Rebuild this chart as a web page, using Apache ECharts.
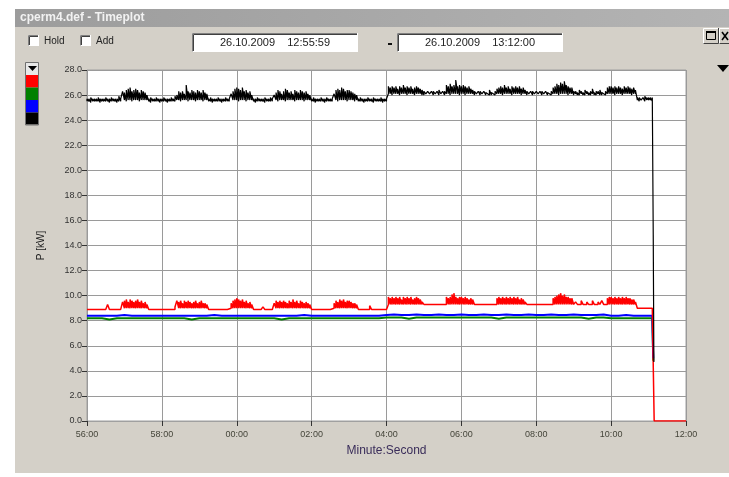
<!DOCTYPE html>
<html>
<head>
<meta charset="utf-8">
<title>cperm4.def - Timeplot</title>
<script src="https://cdn.jsdelivr.net/npm/echarts@6/dist/echarts.min.js"></script>
<style>
  html, body { margin: 0; padding: 0; background: #ffffff; }
  #plot { width: 729px; height: 477px; }
</style>
</head>
<body>
<div id="plot"></div>
<script>
// Power readings, seconds after 12:56:00 (26.10.2009).
// Black and red channels: min / max of each 3 s interval (t = 0 ... 906 s).
const fastStepSec = 3;
const blackHighKw = [
  25.7,25.7,25.8,25.7,25.7,25.7,25.8,25.7,25.7,25.7,25.8,25.7,25.7,25.8,25.7,25.7,25.7,25.9,25.7,26.3,
  26.2,26.4,26.5,26.6,26.3,26.4,26.5,26.4,26.2,26.4,26.3,26.2,26.0,25.7,25.8,25.7,25.7,25.8,25.7,25.7,
  25.7,25.8,25.7,25.7,25.7,25.8,25.7,25.9,26.0,26.3,26.2,26.3,26.1,26.8,26.3,26.2,26.4,26.3,26.2,26.4,
  26.3,26.2,26.4,26.2,26.1,25.7,25.8,25.7,25.7,25.7,25.8,25.7,25.7,25.7,25.8,25.7,25.7,26.1,26.3,26.5,
  26.6,26.5,26.4,26.6,26.3,26.4,26.2,26.3,26.0,25.7,25.7,25.8,25.7,25.7,25.7,25.8,25.7,25.7,25.8,25.7,
  26.0,26.2,26.4,26.3,26.1,26.3,26.5,26.4,26.2,26.3,26.1,26.4,26.3,26.2,26.4,26.3,26.2,26.3,26.1,26.0,
  25.7,25.8,25.7,25.7,25.7,25.8,25.7,25.7,25.8,25.7,25.7,25.7,26.1,26.4,26.5,26.4,26.6,26.5,26.3,26.4,
  26.4,26.3,26.2,26.1,26.0,25.7,25.8,25.7,25.7,25.7,25.8,25.7,25.7,25.8,25.7,25.7,25.7,25.8,25.7,25.7,
  25.7,26.7,26.6,26.7,26.6,26.7,26.5,26.7,26.6,26.8,26.6,26.7,26.6,26.7,26.5,26.6,26.7,26.6,26.5,26.4,
  26.3,26.2,26.3,26.2,26.3,26.3,26.2,26.3,26.4,26.2,26.3,26.3,26.8,26.7,26.9,26.7,26.8,27.2,26.7,26.8,
  26.7,26.8,26.7,26.6,26.7,26.5,26.4,26.3,26.2,26.3,26.3,26.2,26.3,26.2,26.3,26.4,26.2,26.3,26.3,26.5,
  26.6,26.7,26.6,26.8,26.6,26.7,26.5,26.7,26.6,26.7,26.6,26.7,26.5,26.6,26.4,26.3,26.2,26.3,26.3,26.2,
  26.3,26.2,26.3,26.3,26.2,26.3,26.2,26.3,26.3,26.6,26.7,26.9,26.8,27.0,26.9,27.1,26.8,26.7,26.6,26.6,
  26.3,26.3,26.2,26.4,26.3,26.2,26.4,26.3,26.2,26.3,26.5,26.2,26.3,26.3,26.4,26.2,26.3,26.3,26.6,26.7,
  26.7,26.6,26.7,26.6,26.7,26.6,26.5,26.7,26.6,26.7,26.6,26.5,26.6,26.4,25.8,25.8,25.7,25.8,25.9,25.8,
  25.8,25.8,25.8
];
const blackLowKw = [
  25.5,25.5,25.4,25.5,25.5,25.5,25.5,25.4,25.5,25.5,25.5,25.5,25.4,25.5,25.5,25.5,25.4,25.5,25.5,25.6,
  25.6,25.5,25.6,25.6,25.5,25.6,25.6,25.6,25.5,25.6,25.6,25.6,25.6,25.5,25.4,25.5,25.5,25.5,25.5,25.4,
  25.5,25.5,25.5,25.4,25.5,25.5,25.5,25.5,25.6,25.6,25.5,25.6,25.6,25.6,25.5,25.6,25.6,25.6,25.5,25.6,
  25.6,25.6,25.5,25.6,25.6,25.5,25.5,25.4,25.5,25.5,25.5,25.5,25.4,25.5,25.5,25.5,25.5,25.6,25.6,25.6,
  25.6,25.5,25.6,25.6,25.6,25.5,25.6,25.6,25.6,25.5,25.4,25.5,25.5,25.5,25.5,25.4,25.5,25.5,25.5,25.5,
  25.6,25.6,25.5,25.6,25.6,25.6,25.5,25.6,25.6,25.6,25.6,25.5,25.6,25.6,25.6,25.6,25.5,25.6,25.6,25.6,
  25.5,25.5,25.4,25.5,25.5,25.5,25.5,25.4,25.5,25.5,25.5,25.5,25.6,25.6,25.5,25.6,25.6,25.6,25.6,25.5,
  25.6,25.6,25.6,25.5,25.6,25.5,25.5,25.5,25.4,25.5,25.5,25.5,25.5,25.4,25.5,25.5,25.5,25.5,25.4,25.5,
  25.5,26.1,26.1,26.0,26.1,26.1,26.1,26.0,26.1,26.1,26.1,26.0,26.1,26.1,26.1,26.0,26.1,26.1,26.1,26.0,
  26.0,26.1,26.0,26.1,26.0,26.0,26.1,26.0,26.0,26.1,26.0,26.0,26.1,26.1,26.0,26.1,26.1,26.1,26.1,26.0,
  26.1,26.1,26.0,26.1,26.1,26.1,26.1,26.0,26.1,26.0,26.0,26.1,26.0,26.0,26.1,26.0,26.0,26.1,26.0,26.1,
  26.1,26.1,26.0,26.1,26.1,26.1,26.1,26.0,26.1,26.1,26.1,26.1,26.0,26.1,26.1,26.0,26.1,26.0,26.0,26.1,
  26.0,26.1,26.0,26.0,26.1,26.0,26.0,26.1,26.0,26.1,26.1,26.1,26.0,26.1,26.1,26.1,26.1,26.0,26.1,26.1,
  26.0,26.1,26.0,26.0,26.1,26.0,26.0,26.1,26.0,26.0,26.1,26.0,26.0,26.1,26.0,26.0,26.1,26.0,26.1,26.1,
  26.1,26.1,26.0,26.1,26.1,26.1,26.0,26.1,26.1,26.1,26.1,26.0,26.1,26.1,25.6,25.5,25.6,25.6,25.5,25.6,
  25.6,25.6,25.5
];
const redHighKw = [
  9.0,9.0,9.0,9.0,9.0,9.0,9.0,9.0,9.0,9.0,9.0,9.3,9.0,9.0,9.0,9.0,9.0,9.0,9.0,9.5,
  9.6,9.7,9.5,9.7,9.6,9.5,9.6,9.7,9.5,9.6,9.4,9.5,9.3,9.0,9.0,9.0,9.0,9.0,9.0,9.0,
  9.0,9.0,9.0,9.0,9.0,9.0,9.0,9.1,9.6,9.5,9.6,9.4,9.6,9.5,9.6,9.5,9.4,9.5,9.6,9.4,
  9.5,9.6,9.4,9.4,9.3,9.0,9.0,9.0,9.0,9.0,9.0,9.0,9.0,9.0,9.0,9.0,9.0,9.4,9.6,9.7,
  9.8,9.7,9.6,9.7,9.5,9.6,9.4,9.5,9.3,9.0,9.0,9.0,9.0,9.0,9.1,9.0,9.0,9.0,9.0,9.0,
  9.4,9.6,9.5,9.6,9.5,9.6,9.5,9.4,9.6,9.5,9.7,9.5,9.6,9.4,9.6,9.5,9.4,9.5,9.4,9.3,
  9.0,9.0,9.0,9.0,9.0,9.0,9.0,9.0,9.0,9.0,9.0,9.0,9.4,9.6,9.5,9.7,9.6,9.7,9.5,9.6,
  9.6,9.5,9.4,9.4,9.3,9.0,9.0,9.0,9.0,9.0,9.0,9.2,9.0,9.0,9.0,9.0,9.0,9.0,9.0,9.0,
  9.0,9.9,9.8,9.9,9.8,9.9,9.8,9.9,9.7,9.9,9.8,9.9,9.8,9.9,9.7,9.8,9.9,9.8,9.7,9.5,
  9.4,9.4,9.4,9.4,9.4,9.4,9.4,9.4,9.4,9.4,9.4,9.4,9.9,9.8,9.9,10.1,10.2,9.9,9.8,9.9,
  9.9,9.8,9.9,9.8,9.7,9.8,9.7,9.4,9.4,9.4,9.4,9.4,9.4,9.4,9.4,9.4,9.4,9.4,9.4,9.8,
  9.9,9.8,9.9,9.8,9.9,9.8,9.9,9.8,9.9,9.8,9.9,9.7,9.8,9.7,9.5,9.4,9.4,9.4,9.4,9.4,
  9.4,9.4,9.4,9.4,9.4,9.4,9.4,9.4,9.4,9.8,9.9,10.0,10.1,10.2,10.0,10.1,9.9,9.9,9.8,9.8,
  9.4,9.5,9.4,9.4,9.6,9.4,9.4,9.5,9.4,9.4,9.6,9.4,9.4,9.5,9.4,9.6,9.4,9.4,9.8,9.9,
  9.9,9.8,9.9,9.8,9.9,9.8,9.9,9.8,9.9,9.8,9.8,9.7,9.7,9.5,9.1,9.1,9.1,9.1,9.1,9.1,
  9.1,9.1,9.1
];
const redLowKw = [
  8.9,8.9,8.9,8.9,8.9,8.9,8.9,8.9,8.9,8.9,8.9,8.9,8.9,8.9,8.9,8.9,8.9,8.9,8.9,9.0,
  9.0,9.0,9.0,9.0,9.0,9.0,9.0,9.0,9.0,9.0,9.0,9.0,9.0,8.9,8.9,8.9,8.9,8.9,8.9,8.9,
  8.9,8.9,8.9,8.9,8.9,8.9,8.9,8.9,9.0,9.0,9.0,9.0,9.0,9.0,9.0,9.0,9.0,9.0,9.0,9.0,
  9.0,9.0,9.0,9.0,9.0,8.9,8.9,8.9,8.9,8.9,8.9,8.9,8.9,8.9,8.9,8.9,8.9,9.0,9.0,9.0,
  9.0,9.0,9.0,9.0,9.0,9.0,9.0,9.0,9.0,8.9,8.9,8.9,8.9,8.9,8.9,8.9,8.9,8.9,8.9,8.9,
  9.0,9.0,9.0,9.0,9.0,9.0,9.0,9.0,9.0,9.0,9.0,9.0,9.0,9.0,9.0,9.0,9.0,9.0,9.0,9.0,
  8.9,8.9,8.9,8.9,8.9,8.9,8.9,8.9,8.9,8.9,8.9,8.9,9.0,9.0,9.0,9.0,9.0,9.0,9.0,9.0,
  9.0,9.0,9.0,9.0,9.0,8.9,8.9,8.9,8.9,8.9,8.9,8.9,8.9,8.9,8.9,8.9,8.9,8.9,8.9,8.9,
  8.9,9.3,9.3,9.3,9.3,9.3,9.3,9.3,9.3,9.3,9.3,9.3,9.3,9.3,9.3,9.3,9.3,9.3,9.3,9.3,
  9.3,9.3,9.3,9.3,9.3,9.3,9.3,9.3,9.3,9.3,9.3,9.3,9.3,9.3,9.3,9.3,9.3,9.3,9.3,9.3,
  9.3,9.3,9.3,9.3,9.3,9.3,9.3,9.3,9.3,9.3,9.3,9.3,9.3,9.3,9.3,9.3,9.3,9.3,9.3,9.3,
  9.3,9.3,9.3,9.3,9.3,9.3,9.3,9.3,9.3,9.3,9.3,9.3,9.3,9.3,9.3,9.3,9.3,9.3,9.3,9.3,
  9.3,9.3,9.3,9.3,9.3,9.3,9.3,9.3,9.3,9.3,9.3,9.3,9.3,9.3,9.3,9.3,9.3,9.3,9.3,9.3,
  9.3,9.3,9.3,9.3,9.3,9.3,9.3,9.3,9.3,9.3,9.3,9.3,9.3,9.3,9.3,9.3,9.3,9.3,9.3,9.3,
  9.3,9.3,9.3,9.3,9.3,9.3,9.3,9.3,9.3,9.3,9.3,9.3,9.3,9.3,9.0,9.0,9.0,9.0,9.0,9.0,
  9.0,9.0,9.0
];
// Green and blue channels, one reading every 12 s (t = 0 ... 900 s).
const slowStepSec = 12;
const greenKw = [
  8.2,8.2,8.2,8.1,8.2,8.2,8.2,8.2,8.2,8.2,
  8.2,8.2,8.2,8.2,8.1,8.2,8.2,8.2,8.2,8.2,
  8.2,8.2,8.2,8.2,8.2,8.2,8.1,8.2,8.2,8.2,
  8.2,8.2,8.2,8.2,8.2,8.2,8.2,8.2,8.2,8.2,
  8.25,8.25,8.25,8.15,8.25,8.25,8.25,8.25,8.25,8.25,
  8.25,8.25,8.25,8.25,8.25,8.15,8.25,8.25,8.25,8.25,
  8.25,8.25,8.25,8.25,8.25,8.25,8.25,8.15,8.25,8.25,
  8.2,8.2,8.2,8.2,8.2,8.2
];
const blueKw = [
  8.4,8.4,8.4,8.4,8.4,8.45,8.4,8.4,8.4,8.4,
  8.4,8.4,8.4,8.4,8.4,8.4,8.4,8.45,8.4,8.4,
  8.4,8.4,8.4,8.4,8.4,8.4,8.4,8.4,8.4,8.45,
  8.4,8.4,8.4,8.4,8.4,8.4,8.4,8.4,8.4,8.4,
  8.45,8.5,8.45,8.45,8.5,8.45,8.45,8.5,8.45,8.45,
  8.5,8.45,8.45,8.5,8.45,8.45,8.5,8.45,8.45,8.5,
  8.45,8.45,8.5,8.45,8.45,8.5,8.45,8.45,8.45,8.5,
  8.4,8.4,8.45,8.4,8.4,8.4
];
// Shut-down at about 13:11:08
const blackTailSec = [907.5, 907.5, 908.5, 908.5];
const blackTailKw  = [25.7, 14.8, 14.8, 4.7];
const redTailSec   = [909, 909, 960];
const redTailKw    = [9.1, 0, 0];
const greenTailSec = [906, 907.5, 907.5];
const greenTailKw  = [8.2, 8.2, 4.8];
const blueTailSec  = [906, 907.5, 907.5];
const blueTailKw   = [8.4, 8.4, 5.0];

const xTickLabels = ['56:00','58:00','00:00','02:00','04:00','06:00','08:00','10:00','12:00'];
const xTickStepSec = 120;

// min/max per interval drawn as one trace (low -> high at each time step)
function envelope(low, high, step, tailSec, tailKw) {
  const out = [];
  low.forEach((v, i) => { out.push([i * step, v]); out.push([i * step, high[i]]); });
  tailSec.forEach((t, i) => out.push([t, tailKw[i]]));
  return out;
}
function pairs(values, step, tailSec, tailKw) {
  const out = values.map((v, i) => [i * step, v]);
  tailSec.forEach((t, i) => out.push([t, tailKw[i]]));
  return out;
}

const FONT = 'Liberation Sans';
const BODY = '#d4d0c8';

// Sunken (inset) frame used by check boxes and the date fields
function insetBox(x, y, w, h) {
  return [
    { type: 'rect', shape: { x: x, y: y, width: w, height: h }, style: { fill: '#ffffff' } },
    { type: 'polyline', shape: { points: [[x + 0.5, y + h], [x + 0.5, y + 0.5], [x + w, y + 0.5]] }, style: { stroke: '#808080', lineWidth: 1, fill: null } },
    { type: 'polyline', shape: { points: [[x + 1.5, y + h - 1], [x + 1.5, y + 1.5], [x + w - 1, y + 1.5]] }, style: { stroke: '#404040', lineWidth: 1, fill: null } },
    { type: 'polyline', shape: { points: [[x + 0.5, y + h - 0.5], [x + w - 0.5, y + h - 0.5], [x + w - 0.5, y]] }, style: { stroke: '#ffffff', lineWidth: 1, fill: null } }
  ];
}
// Raised button frame
function raisedBox(x, y, w, h) {
  return [
    { type: 'rect', shape: { x: x, y: y, width: w, height: h }, style: { fill: BODY } },
    { type: 'polyline', shape: { points: [[x + 0.5, y + h], [x + 0.5, y + 0.5], [x + w, y + 0.5]] }, style: { stroke: '#ffffff', lineWidth: 1, fill: null } },
    { type: 'polyline', shape: { points: [[x + 0.5, y + h - 0.5], [x + w - 0.5, y + h - 0.5], [x + w - 0.5, y]] }, style: { stroke: '#404040', lineWidth: 1, fill: null } }
  ];
}

const chrome = [].concat(
  [
    // page margins around the window
    { type: 'rect', shape: { x: 0, y: 0, width: 15, height: 477 }, style: { fill: '#ffffff' } },
    { type: 'rect', shape: { x: 0, y: 0, width: 729, height: 9 }, style: { fill: '#ffffff' } },
    { type: 'rect', shape: { x: 0, y: 473, width: 729, height: 4 }, style: { fill: '#ffffff' } },
    // title bar
    { type: 'rect', shape: { x: 15, y: 9, width: 714, height: 18 },
      style: { fill: { type: 'linear', x: 0, y: 0, x2: 1, y2: 0, colorStops: [{ offset: 0, color: '#9c9c9c' }, { offset: 1, color: '#b4b4b4' }] } } },
    { type: 'text', x: 20, y: 18, style: { text: 'cperm4.def - Timeplot', fill: '#f2f2f2', font: 'bold 12px "Liberation Sans"', verticalAlign: 'middle' } }
  ],
  insetBox(28, 35, 11, 11),
  [{ type: 'text', x: 44, y: 41, style: { text: 'Hold', fill: '#222', font: '10px "Liberation Sans"', verticalAlign: 'middle' } }],
  insetBox(80, 35, 11, 11),
  [{ type: 'text', x: 96, y: 41, style: { text: 'Add', fill: '#222', font: '10px "Liberation Sans"', verticalAlign: 'middle' } }],
  insetBox(192, 33, 166, 19),
  [{ type: 'text', x: 275, y: 43, style: { text: '26.10.2009    12:55:59', fill: '#222', font: '11px "Liberation Sans"', align: 'center', verticalAlign: 'middle' } }],
  [{ type: 'rect', shape: { x: 388, y: 43, width: 4, height: 2 }, style: { fill: '#111' } }],
  insetBox(397, 33, 166, 19),
  [{ type: 'text', x: 480, y: 43, style: { text: '26.10.2009    13:12:00', fill: '#222', font: '11px "Liberation Sans"', align: 'center', verticalAlign: 'middle' } }],
  raisedBox(703, 28, 16, 16),
  [
    { type: 'rect', shape: { x: 706.5, y: 31.5, width: 9, height: 8 }, style: { fill: null, stroke: '#000', lineWidth: 1 } },
    { type: 'rect', shape: { x: 706, y: 31, width: 10, height: 2 }, style: { fill: '#000' } }
  ],
  raisedBox(719, 28, 14, 16),
  [
    { type: 'polyline', shape: { points: [[722, 32], [728, 40]] }, style: { stroke: '#000', lineWidth: 1.5, fill: null } },
    { type: 'polyline', shape: { points: [[728, 32], [722, 40]] }, style: { stroke: '#000', lineWidth: 1.5, fill: null } },
    // right-hand drop-down marker
    { type: 'polygon', shape: { points: [[717, 65], [729, 65], [723, 72]] }, style: { fill: '#000' } },
    // channel colour column
    { type: 'rect', shape: { x: 26, y: 63, width: 12, height: 12 }, style: { fill: '#e8e8e8' } },
    { type: 'polygon', shape: { points: [[28, 66], [37, 66], [32.5, 71]] }, style: { fill: '#000' } },
    { type: 'rect', shape: { x: 26, y: 75, width: 12, height: 12.5 }, style: { fill: '#ff0000' } },
    { type: 'rect', shape: { x: 26, y: 87.5, width: 12, height: 12.5 }, style: { fill: '#008000' } },
    { type: 'rect', shape: { x: 26, y: 100, width: 12, height: 12.5 }, style: { fill: '#0000ff' } },
    { type: 'rect', shape: { x: 26, y: 112.5, width: 12, height: 12 }, style: { fill: '#000000' } },
    { type: 'rect', shape: { x: 25.5, y: 62.5, width: 13, height: 62.5 }, style: { fill: null, stroke: '#707070', lineWidth: 1 } }
  ]
);

function lineSeries(name, color, width, data) {
  return {
    name: name, type: 'line', data: data, showSymbol: false, symbol: 'none',
    sampling: null, animation: false, silent: true,
    lineStyle: { color: color, width: width }
  };
}

const chart = echarts.init(document.getElementById('plot'), null, { renderer: 'canvas' });
chart.setOption({
  backgroundColor: BODY,
  animation: false,
  textStyle: { fontFamily: FONT },
  graphic: { elements: chrome },
  grid: {
    left: 87, right: 43, top: 70, bottom: 56,
    show: true, backgroundColor: '#ffffff', borderColor: '#a0a0a0', borderWidth: 1
  },
  xAxis: {
    type: 'value', min: 0, max: 960, interval: xTickStepSec,
    name: 'Minute:Second', nameLocation: 'middle', nameGap: 24,
    nameTextStyle: { color: '#3a2d5a', fontSize: 12, fontFamily: FONT },
    axisLine: { show: true, lineStyle: { color: '#a0a0a0', width: 1 } },
    axisTick: { show: true, length: 5, lineStyle: { color: '#333' } },
    axisLabel: {
      margin: 9, fontSize: 9, color: '#45453a', fontFamily: FONT,
      formatter: v => xTickLabels[Math.round(v / xTickStepSec)]
    },
    splitLine: { show: true, lineStyle: { color: '#9a9a9a', width: 1 } }
  },
  yAxis: {
    type: 'value', min: 0, max: 28, interval: 2, offset: 2,
    name: 'P [kW]', nameLocation: 'middle', nameGap: 39, nameRotate: 90,
    nameTextStyle: { color: '#222', fontSize: 10, fontFamily: FONT },
    axisLine: { show: false },
    axisTick: { show: true, length: 5, lineStyle: { color: '#333' } },
    axisLabel: { margin: 3, fontSize: 9, color: '#333', fontFamily: FONT, formatter: v => v.toFixed(1) },
    splitLine: { show: true, lineStyle: { color: '#9a9a9a', width: 1 } }
  },
  series: [
    lineSeries('green', '#008000', 2, pairs(greenKw, slowStepSec, greenTailSec, greenTailKw)),
    lineSeries('blue', '#0000ff', 2, pairs(blueKw, slowStepSec, blueTailSec, blueTailKw)),
    lineSeries('red', '#ff0000', 1.5, envelope(redLowKw, redHighKw, fastStepSec, redTailSec, redTailKw)),
    lineSeries('black', '#000000', 1.2, envelope(blackLowKw, blackHighKw, fastStepSec, blackTailSec, blackTailKw))
  ]
});
</script>
</body>
</html>
